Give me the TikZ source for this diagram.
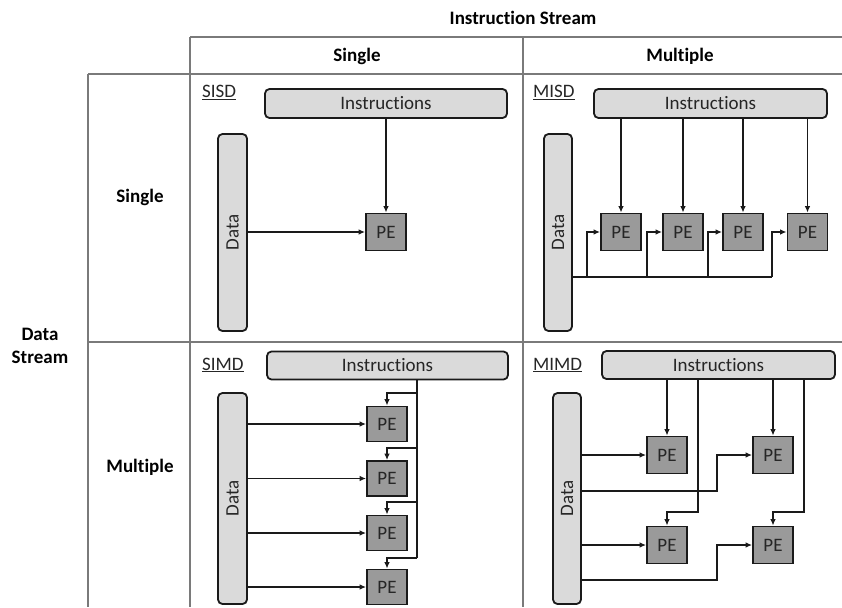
\documentclass[tikz,border=0pt]{standalone}
\usepackage{fontspec}
\setmainfont{Carlito}[Ligatures=NoCommon]
\usetikzlibrary{arrows.meta}
\definecolor{boxfill}{HTML}{DADADA}
\definecolor{pefill}{HTML}{9A9A9A}
\definecolor{gridc}{HTML}{7A7A7A}
\definecolor{ink}{HTML}{1A1A1A}
\definecolor{txt}{HTML}{262626}
\begin{document}
\begin{tikzpicture}[x=1pt,y=-1pt,font=\fontsize{19}{22}\selectfont,
  instr/.style={draw=ink, fill=boxfill, line width=1.8pt, rounded corners=4.5pt, inner sep=0pt, text=txt},
  pebox/.style={draw=ink, fill=pefill, line width=1.8pt, minimum width=40pt, minimum height=37pt, inner sep=0pt, text=txt},
  wire/.style={draw=ink, line width=1.3pt},
  arr/.style={wire, -{Latex[length=6.5pt,width=5.5pt]}},
  gridline/.style={draw=gridc, line width=1.7pt},
  head/.style={font=\fontsize{19}{23}\selectfont\bfseries, text=black},
  tag/.style={anchor=base west, inner sep=0pt, text=txt},
  datalbl/.style={rotate=90, text=txt, inner sep=0pt}
]
\useasboundingbox (0,0) rectangle (842,607);
\fill[white] (0,0) rectangle (842,607);

% grid
\draw[gridline] (190,37) -- (842,37);
\draw[gridline] (88,74) -- (842,74);
\draw[gridline] (88,342) -- (842,342);
\draw[gridline] (190,37) -- (190,607);
\draw[gridline] (523,37) -- (523,607);
\draw[gridline] (88,74) -- (88,607);

% headers
\node[head] (hIS) at (523,18) {Instruction Stream};
\node[head] (hS) at (357,56) {Single};
\node[head] (hM) at (680,56) {Multiple};
\node[head] (rS) at (140,197) {Single};
\node[head] (rM) at (140,467) {Multiple};
\node[head, align=center] (hDS) at (40,346) {Data\\Stream};

% ---------- SISD ----------
\node[tag] (tSISD) at (202,98) {\underline{SISD}};
\node[instr, minimum width=242pt, minimum height=29pt] (i1) at (386,103.5) {Instructions};
\node[instr, minimum width=29pt, minimum height=197pt, label={[datalbl]center:Data}] (d1) at (232.5,232.5) {};
\node[pebox] (p1) at (386,232) {PE};
\draw[arr] (p1.north |- i1.south) -- (p1.north);
\draw[arr] (d1.east |- p1.west) -- (p1.west);

% ---------- MISD ----------
\node[tag] (tMISD) at (533,98) {\underline{MISD}};
\node[instr, minimum width=233pt, minimum height=29pt] (i2) at (710.5,103.5) {Instructions};
\node[instr, minimum width=28pt, minimum height=197pt, label={[datalbl]center:Data}] (d2) at (558,232.5) {};
\node[pebox] (m1) at (621,232) {PE};
\node[pebox] (m2) at (683,232) {PE};
\node[pebox] (m3) at (743,232) {PE};
\node[pebox] (m4) at (807.5,232) {PE};
\foreach \k in {1,...,4} \draw[arr] (m\k.north |- i2.south) -- (m\k.north);
\coordinate (b1) at (587,277);
\coordinate (b2) at (647,277);
\coordinate (b3) at (708,277);
\coordinate (b4) at (772,277);
\draw[wire] (d2.east |- b1) -- (b4);
\draw[arr] (b1) |- (m1.west);
\draw[arr] (b2) |- (m2.west);
\draw[arr] (b3) |- (m3.west);
\draw[arr] (b4) |- (m4.west);

% ---------- SIMD ----------
\node[tag] (tSIMD) at (202,370) {\underline{SIMD}};
\node[instr, minimum width=241pt, minimum height=28pt] (i3) at (387.5,365.5) {Instructions};
\node[instr, minimum width=29pt, minimum height=211pt, label={[datalbl]center:Data}] (d3) at (232.5,498.5) {};
\node[pebox, minimum height=35pt] (s1) at (387,424) {PE};
\node[pebox, minimum height=35pt] (s2) at (387,478.5) {PE};
\node[pebox, minimum height=35pt] (s3) at (387,533) {PE};
\node[pebox, minimum height=35pt] (s4) at (387,587) {PE};
\coordinate (t1) at (417,393);
\coordinate (t2) at (417,448);
\coordinate (t3) at (417,502);
\coordinate (t4) at (417,558);
\draw[wire] (t1 |- i3.south) -- (t4);
\foreach \k in {1,...,4} {
  \draw[arr] (t\k) -| (s\k.north);
  \draw[arr] (d3.east |- s\k.west) -- (s\k.west);
}

% ---------- MIMD ----------
\node[tag] (tMIMD) at (533,370) {\underline{MIMD}};
\node[instr, minimum width=233pt, minimum height=28pt] (i4) at (718.5,365) {Instructions};
\node[instr, minimum width=28pt, minimum height=211pt, label={[datalbl]center:Data}] (d4) at (567,498.5) {};
\node[pebox] (q1) at (667,455) {PE};
\node[pebox] (q2) at (773,455) {PE};
\node[pebox] (q3) at (667,545) {PE};
\node[pebox] (q4) at (773,545) {PE};
\draw[arr] (q1.north |- i4.south) -- (q1.north);
\draw[arr] (q2.north |- i4.south) -- (q2.north);
\coordinate (c1) at (698,512);
\coordinate (c2) at (804,512);
\draw[arr] (c1 |- i4.south) -- (c1) -| (q3.north);
\draw[arr] (c2 |- i4.south) -- (c2) -| (q4.north);
\coordinate (e1) at (717,491);
\coordinate (e2) at (717,580);
\draw[arr] (d4.east |- q1.west) -- (q1.west);
\draw[arr] (d4.east |- e1) -- (e1) |- (q2.west);
\draw[arr] (d4.east |- q3.west) -- (q3.west);
\draw[arr] (d4.east |- e2) -- (e2) |- (q4.west);
\end{tikzpicture}
\end{document}
